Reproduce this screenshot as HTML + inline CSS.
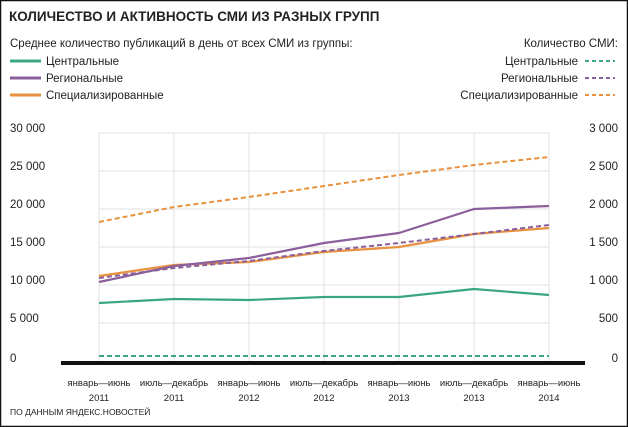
<!DOCTYPE html>
<html><head><meta charset="utf-8"><style>
body{margin:0;background:#fff}
svg{display:block}
text{font-family:"Liberation Sans",sans-serif;fill:#222}
</style></head><body>
<svg width="628" height="427" viewBox="0 0 628 427">
<rect x="0.5" y="0.5" width="627" height="426" fill="#fff" stroke="#111" stroke-width="1.5"/>
<text x="9" y="21" font-size="13.5" font-weight="bold" fill="#111">КОЛИЧЕСТВО И АКТИВНОСТЬ СМИ ИЗ РАЗНЫХ ГРУПП</text>
<g font-size="11.5">
<text x="10" y="47">Среднее количество публикаций в день от всех СМИ из группы:</text>
<text x="46" y="65">Центральные</text>
<text x="46" y="82">Региональные</text>
<text x="46" y="99">Специализированные</text>
<text x="618" y="47" text-anchor="end">Количество СМИ:</text>
<text x="578" y="65" text-anchor="end">Центральные</text>
<text x="578" y="82" text-anchor="end">Региональные</text>
<text x="578" y="99" text-anchor="end">Специализированные</text>
</g>
<g stroke-width="3">
<line x1="10" y1="61" x2="41" y2="61" stroke="#3aa77f"/>
<line x1="10" y1="78" x2="41" y2="78" stroke="#8a5f9b"/>
<line x1="10" y1="95" x2="41" y2="95" stroke="#e8913f"/>
</g>
<g stroke-width="2" stroke-dasharray="4,3">
<line x1="585" y1="61" x2="615" y2="61" stroke="#3aa77f"/>
<line x1="585" y1="78" x2="615" y2="78" stroke="#8a5f9b"/>
<line x1="585" y1="95" x2="615" y2="95" stroke="#e8913f"/>
</g>
<g stroke="#e2e2e2" stroke-width="1">
<line x1="99" y1="133" x2="549" y2="133"/><line x1="99" y1="171" x2="549" y2="171"/>
<line x1="99" y1="209" x2="549" y2="209"/><line x1="99" y1="247" x2="549" y2="247"/>
<line x1="99" y1="285" x2="549" y2="285"/><line x1="99" y1="323" x2="549" y2="323"/>
<line x1="99" y1="133" x2="99" y2="362"/><line x1="174" y1="133" x2="174" y2="362"/>
<line x1="249" y1="133" x2="249" y2="362"/><line x1="324" y1="133" x2="324" y2="362"/>
<line x1="399" y1="133" x2="399" y2="362"/><line x1="474" y1="133" x2="474" y2="362"/>
<line x1="549" y1="133" x2="549" y2="362"/>
</g>
<g font-size="11.5">
<text x="10" y="132">30 000</text><text x="10" y="170">25 000</text><text x="10" y="208">20 000</text>
<text x="10" y="246">15 000</text><text x="10" y="284">10 000</text><text x="10" y="322">5 000</text>
<text x="10" y="362">0</text>
<text x="618" y="132" text-anchor="end">3 000</text><text x="618" y="170" text-anchor="end">2 500</text>
<text x="618" y="208" text-anchor="end">2 000</text><text x="618" y="246" text-anchor="end">1 500</text>
<text x="618" y="284" text-anchor="end">1 000</text><text x="618" y="322" text-anchor="end">500</text>
<text x="618" y="362" text-anchor="end">0</text>
</g>
<line x1="61" y1="363" x2="585" y2="363" stroke="#111" stroke-width="4"/>
<g fill="none" stroke-width="2.2" stroke-linejoin="round">
<polyline stroke="#3aa77f" points="99,303 174,299 249,300 324,297 399,297 474,289 549,295"/>
<polyline stroke="#e8913f" points="99,276 174,265 249,262 324,252 399,247 474,234 549,228"/>
<polyline stroke="#8a5f9b" points="99,282 174,266 249,258 324,243 399,233 474,209 549,206"/>
</g>
<g fill="none" stroke-width="2" stroke-dasharray="5,3">
<polyline stroke="#e8913f" points="99,222 174,207 249,197 324,186 399,175 474,165 549,157"/>
<polyline stroke="#8a5f9b" points="99,278 174,268 249,261 324,251 399,243 474,234 549,225"/>
<polyline stroke="#3aa77f" points="99,356 549,356"/>
</g>
<g font-size="9.5" text-anchor="middle" fill="#333">
<text x="99" y="386">январь—июнь</text><text x="99" y="401">2011</text>
<text x="174" y="386">июль—декабрь</text><text x="174" y="401">2011</text>
<text x="249" y="386">январь—июнь</text><text x="249" y="401">2012</text>
<text x="324" y="386">июль—декабрь</text><text x="324" y="401">2012</text>
<text x="399" y="386">январь—июнь</text><text x="399" y="401">2013</text>
<text x="474" y="386">июль—декабрь</text><text x="474" y="401">2013</text>
<text x="549" y="386">январь—июнь</text><text x="549" y="401">2014</text>
</g>
<text x="10" y="415" font-size="8.5">ПО ДАННЫМ ЯНДЕКС.НОВОСТЕЙ</text>
</svg>
</body></html>
